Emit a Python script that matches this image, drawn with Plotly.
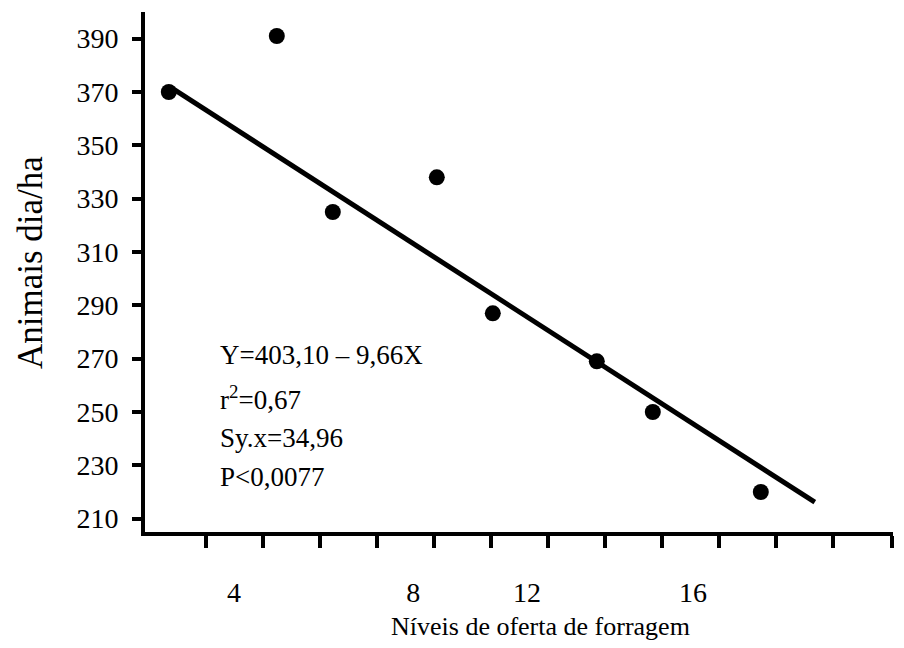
import plotly.graph_objects as go

# Observed animal-days per hectare at each forage allowance level
forage_level = [3.2, 5.9, 7.3, 9.9, 11.3, 13.9, 15.3, 18.0]
animal_days = [370, 391, 325, 338, 287, 269, 250, 220]

# Fitted regression Y = a + b*X
intercept = 403.10
slope = -9.66
fit_x = [3.25, 19.35]
fit_y = [intercept + slope * x for x in fit_x]

# Axis ticks
y_ticks = [210, 230, 250, 270, 290, 310, 330, 350, 370, 390]
x_tick_marks = [4.13 + 1.425 * k for k in range(12)] + [21.28]
x_label_vals = [4.83, 9.31, 12.155, 16.305]
x_label_text = ["4", "8", "12", "16"]

stats_lines = ["Y=403,10 – 9,66X", "r<sup>2</sup>=0,67", "Sy.x=34,96", "P<0,0077"]
stats_y = [271.3, 255.2, 240.2, 225.6]

FONT = "Liberation Serif, Times New Roman, serif"

fig = go.Figure()
fig.add_trace(go.Scatter(
    x=fit_x, y=fit_y, mode="lines",
    line=dict(color="black", width=5), showlegend=False,
))
fig.add_trace(go.Scatter(
    x=forage_level, y=animal_days, mode="markers",
    marker=dict(color="black", size=16, symbol="circle"), showlegend=False,
))

annotations = []
for txt, yv in zip(stats_lines, stats_y):
    annotations.append(dict(
        x=4.43, y=yv, xref="x", yref="y", text=txt, showarrow=False,
        xanchor="left", yanchor="middle",
        font=dict(family=FONT, size=27, color="black"),
    ))

# axis titles, placed by pixel position relative to the plot area
L, R, T, B = 145, 11, 12, 116
W, H = 904, 648
pw, ph = W - L - R, H - T - B

def paper_x(px):
    return (px - L) / pw

def paper_y(py):
    return 1 - (py - T) / ph

annotations.append(dict(
    x=paper_x(540), y=paper_y(626), xref="paper", yref="paper",
    text="Níveis de oferta de forragem", showarrow=False,
    xanchor="center", yanchor="middle",
    font=dict(family=FONT, size=26, color="black"),
))
annotations.append(dict(
    x=paper_x(30), y=paper_y(263), xref="paper", yref="paper",
    text="Animais dia/ha", textangle=-90, showarrow=False,
    xanchor="center", yanchor="middle",
    font=dict(family=FONT, size=35, color="black"),
))

fig.update_layout(
    width=W, height=H,
    margin=dict(l=L, r=R, t=T, b=B),
    paper_bgcolor="white", plot_bgcolor="white",
    font=dict(family=FONT, color="black"),
    annotations=annotations,
    xaxis=dict(
        range=[2.605, 21.305], showgrid=False, zeroline=False,
        showline=True, linecolor="black", linewidth=4,
        tickmode="array", tickvals=x_label_vals, ticktext=x_label_text,
        ticks="", ticklabelstandoff=32,
        tickfont=dict(family=FONT, size=28, color="black"),
        minor=dict(tickmode="array", tickvals=x_tick_marks, ticks="outside",
                   ticklen=12, tickwidth=4, tickcolor="black", showgrid=False),
    ),
    yaxis=dict(
        range=[205, 400], showgrid=False, zeroline=False,
        showline=True, linecolor="black", linewidth=4,
        tickmode="array", tickvals=y_ticks,
        ticks="outside", ticklen=9, tickwidth=4, tickcolor="black",
        ticklabelstandoff=8,
        tickfont=dict(family=FONT, size=28, color="black"),
    ),
)

fig.write_html("out.html")
